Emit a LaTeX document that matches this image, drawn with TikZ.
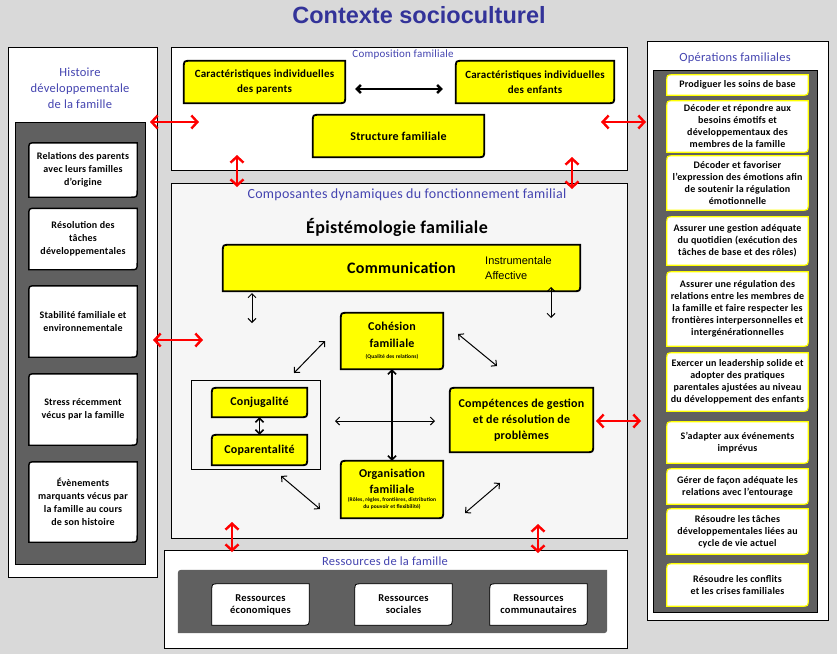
\documentclass[tikz,border=0pt]{standalone}
\usepackage{fontspec}
\setmainfont[LetterSpace=2]{Carlito}
\newfontfamily\arialfont{Liberation Sans}
\usetikzlibrary{arrows.meta}
\pgfdeclarelayer{panels}
\pgfdeclarelayer{shapes}
\pgfsetlayers{panels,shapes,main}
\definecolor{pagegrey}{RGB}{217,217,217}
\definecolor{darkpanel}{RGB}{96,96,96}
\definecolor{titleblue}{RGB}{51,51,153}
\definecolor{headblue}{RGB}{68,68,176}
\definecolor{lightpanel}{RGB}{246,246,246}
\definecolor{boxyellow}{RGB}{255,255,0}
% box outline, rounded top left and bottom right
\newcommand\leaf[1]{([yshift=-7pt]#1.north west) .. controls (#1.north west) .. ([xshift=7pt]#1.north west) -- (#1.north east) -- ([yshift=7pt]#1.south east) .. controls (#1.south east) .. ([xshift=-7pt]#1.south east) -- (#1.south west) -- cycle}
\tikzset{
  wh/.style 2 args={minimum width=#1, minimum height=#2},
  panel/.style={draw=black, line width=0.8pt, fill=white, inner sep=0pt},
  head/.style={text=headblue, font=\fontsize{12.5}{16}\selectfont, align=center},
  txt/.style={align=center, inner sep=0pt},
  hbox/.style={txt, font=\bfseries\fontsize{10}{13}\selectfont},
  rbox/.style={txt, font=\bfseries\fontsize{10}{12}\selectfont},
  ybox/.style={txt, font=\bfseries\fontsize{11}{15}\selectfont},
  hshape/.style={draw=black, line width=1.4pt, fill=white},
  rshape/.style={draw=boxyellow, line width=1.2pt, fill=white},
  yshape/.style={draw=black, line width=1.8pt, fill=boxyellow},
  bshape/.style={draw=black, line width=0.8pt, fill=white},
  redarr/.style={draw=red, line width=2.4pt, {Straight Barb[length=6pt,width=13pt]}-{Straight Barb[length=6pt,width=13pt]}},
  blkarr/.style={line width=1pt, {Straight Barb[length=4pt,width=8pt]}-{Straight Barb[length=4pt,width=8pt]}},
}
\begin{document}
\begin{tikzpicture}[x=1pt,y=-1pt]
\useasboundingbox (0,0) rectangle (837,654);
\begin{pgfonlayer}{panels}
\fill[pagegrey] (0,0) rectangle (837,654);
\node[panel, wh={149}{530}] (hist) at (82.5,312) {};
\node[panel, fill=darkpanel, wh={130}{442}] (histin) at (80,343) {};
\node[panel, wh={456}{123}] (compo) at (399,108.5) {};
\node[panel, fill=lightpanel, wh={456}{355}] (dyn) at (399,360.5) {};
\node[panel, wh={463}{98}] (ress) at (395.5,599) {};
\node[inner sep=0pt, wh={429}{63}] (ressin) at (392.5,601.5) {};
\fill[darkpanel] \leaf{ressin};
\node[panel, wh={181}{579}] (oper) at (737.5,330.5) {};
\node[panel, fill=darkpanel, wh={164}{542}] (operin) at (735,341) {};
\end{pgfonlayer}
%
\node[font=\arialfont\bfseries\fontsize{23.5}{26}\selectfont, text=titleblue] (title) at (419,15) {Contexte socioculturel};
\node[head, font=\fontsize{12.5}{16}\selectfont] (histt) at (80,88) {Histoire\\développementale\\de la famille};
\node[head, font=\fontsize{11}{12}\selectfont] (compot) at (403,55) {Composition familiale};
\node[head, font=\fontsize{14}{15}\selectfont] (dynt) at (407,195) {Composantes dynamiques du fonctionnement familial};
\node[head] (resst) at (385,561) {Ressources de la famille};
\node[head] (opert) at (735,58) {Opérations familiales};
%
\node[hbox, wh={108}{54}] (h1) at (83,170) {Relations des parents\\avec leurs familles\\d’origine};
\node[hbox, wh={108}{61}] (h2) at (83,239) {Résolution des\\tâches\\développementales};
\node[hbox, wh={108}{71}] (h3) at (83,321.5) {Stabilité familiale et\\environnementale};
\node[hbox, wh={108}{71}] (h4) at (83,409.5) {Stress récemment\\vécus par la famille};
\node[hbox, wh={108}{80}] (h5) at (83,502) {Évènements\\marquants vécus par\\la famille au cours\\de son histoire};
%
\node[rbox, wh={141}{20}] (r1) at (737.5,85) {Prodiguer les soins de base};
\node[rbox, wh={141}{51}] (r2) at (737.5,126.5) {Décoder et répondre aux\\besoins émotifs et\\développementaux des\\membres de la famille};
\node[rbox, wh={141}{54}] (r3) at (737.5,183) {Décoder et favoriser\\l’expression des émotions afin\\de soutenir la régulation\\émotionnelle};
\node[rbox, wh={141}{48}] (r4) at (737.5,241) {Assurer une gestion adéquate\\du quotidien (exécution des\\tâches de base et des rôles)};
\node[rbox, wh={141}{74}] (r5) at (737.5,309) {Assurer une régulation des\\relations entre les membres de\\la famille et faire respecter les\\frontières interpersonnelles et\\intergénérationnelles};
\node[rbox, wh={141}{58}] (r6) at (737.5,382) {Exercer un leadership solide et\\adopter des pratiques\\parentales ajustées au niveau\\du développement des enfants};
\node[rbox, wh={141}{41}] (r7) at (737.5,442.5) {S’adapter aux événements\\imprévus};
\node[rbox, wh={141}{35}] (r8) at (737.5,486.5) {Gérer de façon adéquate les\\relations avec l’entourage};
\node[rbox, wh={141}{45}] (r9) at (737.5,531.5) {Résoudre les tâches\\développementales liées au\\cycle de vie actuel};
\node[rbox, wh={141}{42}] (r10) at (737.5,585) {Résoudre les conflits\\et les crises familiales};
%
\node[ybox, wh={161}{42}] (parents) at (264.5,82) {Caractéristiques individuelles\\des parents};
\node[ybox, wh={158}{42}] (enfants) at (535,82) {Caractéristiques individuelles\\des enfants};
\node[ybox, wh={171}{42}, font=\bfseries\fontsize{12}{15}\selectfont] (struct) at (398.5,136) {Structure familiale};
%
\node[font=\bfseries\fontsize{18}{20}\selectfont] (epis) at (397,227) {Épistémologie familiale};
\node[txt, wh={357}{46}, font=\bfseries\fontsize{16}{18}\selectfont] (comm) at (401.5,268) {Communication};
\node[anchor=west, align=left, inner sep=0pt, font=\arialfont\fontsize{11}{15}\selectfont] (commtype) at (485,268) {Instrumentale\\Affective};
\node[txt, wh={102}{56}, font=\bfseries\fontsize{12}{17}\selectfont] (coh) at (392,341) {Cohésion\\familiale\\[-6pt]{\fontsize{5.5}{6}\selectfont (Qualité des relations)}};
\node[txt, wh={102}{57}, font=\bfseries\fontsize{12}{16}\selectfont] (org) at (392,489.5) {Organisation\\familiale\\[-5pt]{\fontsize{5.5}{7}\selectfont\begin{tabular}{@{}c@{}}(Rôles, règles, frontières, distribution\\du pouvoir et flexibilité)\end{tabular}}};
\node[draw, line width=0.6pt, wh={129}{89}] (couple) at (255.5,424.5) {};
\node[txt, wh={95}{29}, font=\bfseries\fontsize{12}{14}\selectfont] (conj) at (259.5,402.5) {Conjugalité};
\node[txt, wh={95}{30}, font=\bfseries\fontsize{12}{14}\selectfont] (copa) at (259.5,450) {Coparentalité};
\node[txt, wh={143}{64}, font=\bfseries\fontsize{12}{16}\selectfont] (gest) at (521.5,420) {Compétences de gestion\\et de résolution de\\problèmes};
%
\node[hbox, wh={97}{41}, font=\bfseries\fontsize{10.5}{12}\selectfont] (eco) at (260.5,604.5) {Ressources\\économiques};
\node[hbox, wh={97}{41}, font=\bfseries\fontsize{10.5}{12}\selectfont] (soc) at (403.5,604.5) {Ressources\\sociales};
\node[hbox, wh={97}{41}, font=\bfseries\fontsize{10.5}{12}\selectfont] (comu) at (538.5,604.5) {Ressources\\communautaires};
%
\begin{pgfonlayer}{shapes}
\foreach \n in {h1,h2,h3,h4,h5} \draw[hshape] \leaf{\n};
\foreach \n in {r1,r2,r3,r4,r5,r6,r7,r8,r9,r10} \draw[rshape] \leaf{\n};
\foreach \n in {parents,enfants,struct,comm,coh,org,conj,copa,gest} \draw[yshape] \leaf{\n};
\foreach \n in {eco,soc,comu} \draw[bshape] \leaf{\n};
\end{pgfonlayer}
%
\coordinate (hl) at (150,122); \coordinate (hr) at (199,122);
\coordinate (ol) at (601,122); \coordinate (or) at (646,122);
\coordinate (dl) at (153,340); \coordinate (dr) at (203,340);
\coordinate (gl) at (596,421); \coordinate (gr) at (641,421);
\coordinate (ct1) at (237,155); \coordinate (cb1) at (237,187);
\coordinate (ct2) at (572,157); \coordinate (cb2) at (572,189);
\coordinate (rt1) at (232,522); \coordinate (rb1) at (232,552);
\coordinate (rt2) at (538,524); \coordinate (rb2) at (538,553);
\draw[redarr] (hl) -- (hr);
\draw[redarr] (ol) -- (or);
\draw[redarr] (dl) -- (dr);
\draw[redarr] (gl) -- (gr);
\draw[redarr] (ct1) -- (cb1);
\draw[redarr] (ct2) -- (cb2);
\draw[redarr] (rt1) -- (rb1);
\draw[redarr] (rt2) -- (rb2);
%
\draw[blkarr, line width=2.4pt] ([shift={(10,7)}]parents.east) -- ([shift={(-13,7)}]enfants.west);
\draw[blkarr] (252,293) coordinate (c1) -- (252,323) coordinate (c2);
\draw[blkarr] (551,287) coordinate (c3) -- (551,318) coordinate (c4);
\draw[blkarr] (294,373) coordinate (c5) -- (325,341) coordinate (c6);
\draw[blkarr] (458,334) coordinate (c7) -- (497,366) coordinate (c8);
\draw[blkarr] (335,421) coordinate (c9) -- (435,421) coordinate (c10);
\draw[blkarr] (281,476) coordinate (c11) -- (320,509) coordinate (c12);
\draw[blkarr] (465,513) coordinate (c13) -- (500,483) coordinate (c14);
\draw[blkarr, line width=1.6pt] (coh) -- (org);
\draw[blkarr, line width=1.6pt] (conj) -- (copa);
\end{tikzpicture}
\end{document}
